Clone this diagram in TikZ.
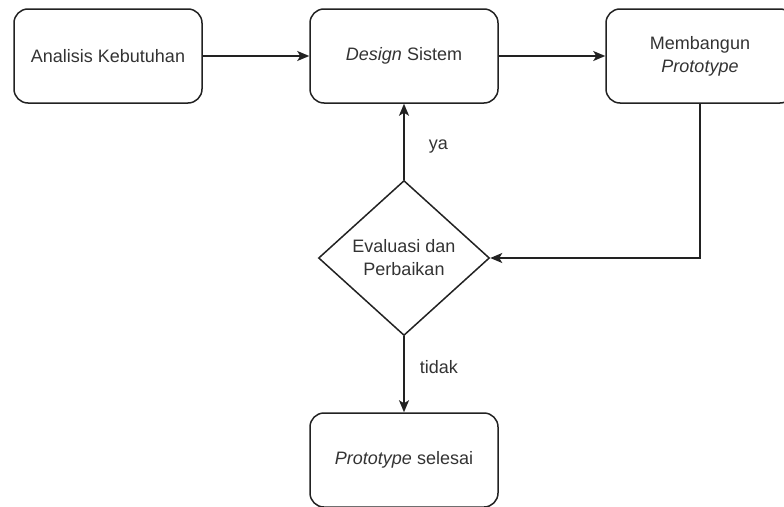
\documentclass[tikz,border=0pt]{standalone}
\usepackage{fontspec}
\setmainfont{Liberation Sans}
\usetikzlibrary{shapes.geometric,arrows.meta}
\definecolor{txt}{HTML}{333333}
\definecolor{ln}{HTML}{222222}
\begin{document}
\begin{tikzpicture}[x=1pt,y=-1pt,
  every node/.style={text=txt,font=\fontsize{18}{23}\selectfont},
  box/.style={draw=ln,line width=1.5pt,rounded corners=14pt,minimum width=188pt,minimum height=94pt,align=center,inner sep=0pt},
  dec/.style={draw=ln,line width=1.5pt,diamond,aspect=1.1,minimum width=171pt,minimum height=155pt,align=center,inner sep=0pt},
  conn/.style={draw=ln,line width=1.5pt,-{Stealth[length=12pt,width=10pt,inset=3pt]}},
  lbl/.style={inner sep=0pt}]
\useasboundingbox (0,0) rectangle (784,506);
\node[box] (b1) at (108,56) {Analisis Kebutuhan};
\node[box] (b2) at (404,56) {\textit{Design} Sistem};
\node[box] (b3) at (700,56) {Membangun\\\textit{Prototype}};
\node[dec] (d) at (404,258) {Evaluasi dan\\Perbaikan};
\node[box] (b4) at (404,460) {\textit{Prototype} selesai};
\draw[conn] (b1) -- (b2);
\draw[conn] (b2) -- (b3);
\draw[conn] (b3.south) |- (d.east);
\draw[conn] (d.north) -- (b2.south) node[lbl,pos=0.44,right=24pt] (ya) {ya};
\draw[conn] (d.south) -- (b4.north) node[lbl,pos=0.4,right=15pt] (tidak) {tidak};
\end{tikzpicture}
\end{document}
